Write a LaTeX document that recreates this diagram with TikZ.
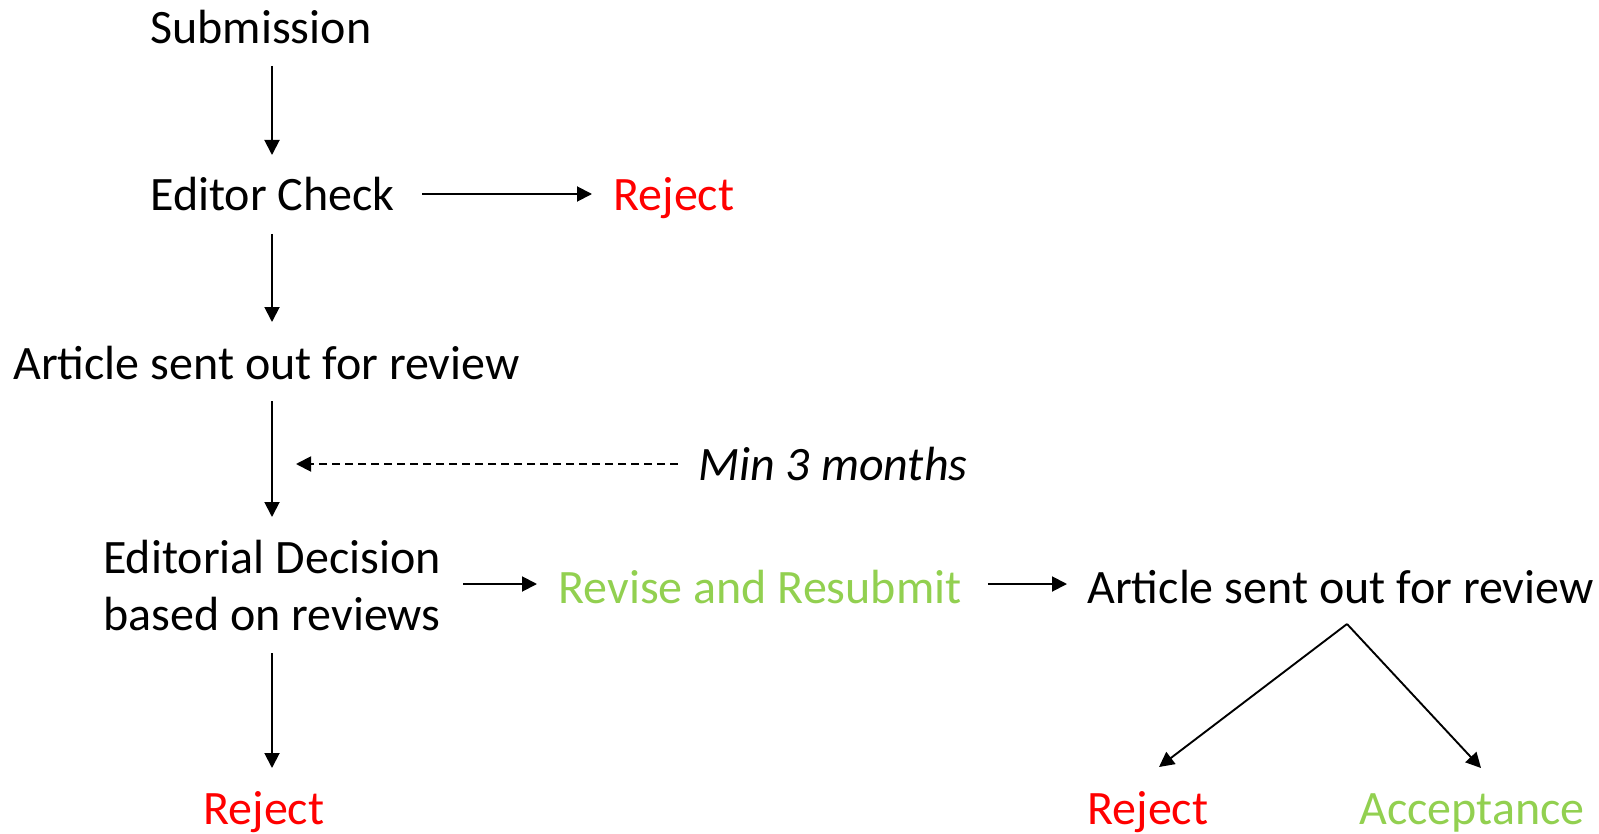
\documentclass[tikz,border=0pt]{standalone}
\usepackage{fontspec}
\setmainfont{Carlito}
\usetikzlibrary{arrows.meta,calc}
\definecolor{rejred}{HTML}{FF0000}
\definecolor{okgreen}{HTML}{92D050}
\tikzset{arr/.style={line width=0.95pt,-{Triangle[length=7.5pt,width=7.5pt]}}}
\begin{document}
\begin{tikzpicture}[x=0.5pt,y=-0.5pt,
  txt/.style={inner sep=0pt,anchor=base west,font=\fontsize{24}{28.5}\selectfont},
  darr/.style={arr,dash pattern=on 4pt off 2.5pt}]
\useasboundingbox (0,0) rectangle (1599,834);
\coordinate (axis) at (272,0);
% nodes
\node[txt] (sub) at (150,44) {Submission};
\node[txt] (ec) at (150,211) {Editor Check};
\node[txt,text=rejred] (rej1) at (613,211) {Reject};
\node[txt] (art1) at (13,379) {Article sent out for review};
\node[txt,font=\fontsize{24}{28.5}\selectfont\itshape] (min) at (698,480) {Min 3 months};
\node[txt,anchor=center,align=left] (ed) at (272,585.5) {Editorial Decision\\based on reviews};
\node[txt,text=okgreen] (rr) at (558,603) {Revise and Resubmit};
\node[txt] (art2) at (1087,603) {Article sent out for review};
\node[txt,text=rejred] (rej2) at (203,824) {Reject};
\node[txt,text=rejred] (rej3) at (1087,824) {Reject};
\node[txt,text=okgreen] (acc) at (1359,824) {Acceptance};
\coordinate (dashend) at (296,464);
% connectors
\draw[arr] ($(sub.base -| axis)+(0,22)$) -- ($(ec.base -| axis)+(0,-56)$);
\draw[arr] ($(ec.base -| axis)+(0,23)$) -- ($(art1.base -| axis)+(0,-57)$);
\draw[arr] ($(art1.base -| axis)+(0,22)$) -- ($(ed.center)+(0,-68.5)$);
\draw[arr] ($(ed.center)+(0,67.5)$) -- ($(rej2.base -| axis)+(0,-56)$);
\draw[arr] ($(ec.base east)+(27,-17)$) -- ($(rej1.base west)+(-21,-17)$);
\draw[darr] ($(min.base west)+(-20,-16)$) -- (dashend);
\draw[arr] ($(ed.east)+(22,-1.5)$) -- ($(rr.base west)+(-21,-19)$);
\draw[arr] ($(rr.base east)+(26,-19)$) -- ($(art2.base west)+(-20,-19)$);
\draw[arr] ($(art2.base west)+(260,21)$) -- ($(rej3.base west)+(72,-57)$);
\draw[arr] ($(art2.base west)+(260,21)$) -- ($(acc.base west)+(122,-56)$);
\end{tikzpicture}
\end{document}
